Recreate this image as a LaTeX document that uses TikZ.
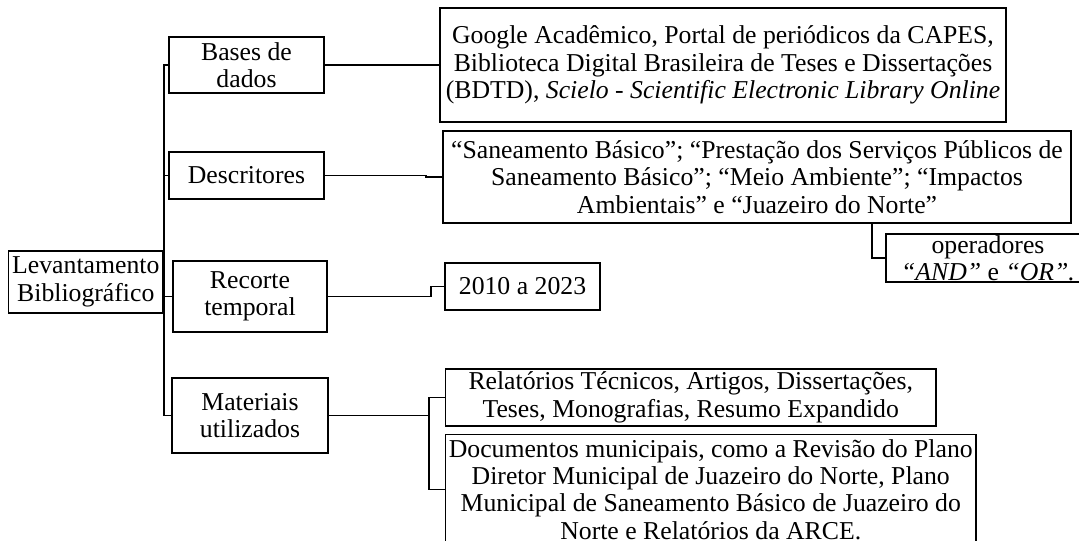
\documentclass[tikz,border=0pt]{standalone}
\usepackage{fontspec}
\setmainfont{Liberation Serif}
\usetikzlibrary{calc}

\begin{document}
\begin{tikzpicture}[x=0.75pt, y=-0.75pt,
  caixa/.style={draw, line width=1.3pt, align=center, inner sep=1pt,
    font=\fontsize{19.3pt}{20.6pt}\selectfont},
  liga/.style={line width=1.1pt}]
\useasboundingbox (0,0) rectangle (1079,541);
\clip (0,0) rectangle (1079,541);

\node[caixa, minimum width=115.8pt, minimum height=46.5pt] (lev) at (85.8,282) {Levantamento\\Bibliográfico};
\node[caixa, minimum width=116.25pt, minimum height=42pt] (bases) at (246.5,65) {Bases de\\dados};
\node[caixa, minimum width=116.25pt, minimum height=35.25pt] (desc) at (246.5,175.5) {Descritores};
\node[caixa, minimum width=115.5pt, minimum height=53.25pt] (recorte) at (250,296.5) {Recorte\\temporal};
\node[caixa, minimum width=117pt, minimum height=56.25pt] (mat) at (250,415.5) {Materiais\\utilizados};

\node[caixa, minimum width=424.5pt, minimum height=85.5pt] (google) at (723,65) {Google Acadêmico, Portal de periódicos da CAPES,\\Biblioteca Digital Brasileira de Teses e Dissertações\\(BDTD), \textit{Scielo - Scientific Electronic Library Online}};
\node[caixa, minimum width=471pt, minimum height=69pt] (san) at (757,177) {“Saneamento Básico”; “Prestação dos Serviços Públicos de\\Saneamento Básico”; “Meio Ambiente”; “Impactos\\Ambientais” e “Juazeiro do Norte”};
\node[caixa, minimum width=153pt, minimum height=36pt] (oper) at (988,258) {operadores\\\textit{“AND”} e \textit{“OR”.}};
\node[caixa, minimum width=116.25pt, minimum height=35.25pt] (ano) at (522.5,286.5) {2010 a 2023};
\node[caixa, minimum width=367.9pt, minimum height=42.75pt] (rel) at (690.75,397.5) {Relatórios Técnicos, Artigos, Dissertações,\\Teses, Monografias, Resumo Expandido};
\node[caixa, minimum width=397.9pt, minimum height=82.5pt] (doc) at (710.75,489.5) {Documentos municipais, como a Revisão do Plano\\Diretor Municipal de Juazeiro do Norte, Plano\\Municipal de Saneamento Básico de Juazeiro do\\Norte e Relatórios da ARCE.};

\coordinate (tronco) at (164,0);
\coordinate (ramo) at ($(rel.west)+(-15.5,0)$);

\draw[liga] (bases.west) -| (tronco |- mat.west) -- (mat.west);
\draw[liga] (desc.west) -- (desc.west -| tronco);
\draw[liga] (recorte.west) -- (recorte.west -| tronco);
\draw[liga] (lev.east) -- (lev.east -| tronco);

\draw[liga] (bases.east) -- (google.west);
\draw[liga] (desc.east) -| ($(san.west)+(-16,0)$) -- (san.west);
\draw[liga] ($(san.south east)+(-200,0)$) |- (oper.west);
\draw[liga] (recorte.east) -- ++(103,0) |- (ano.west);
\draw[liga] (mat.east) -- (mat.east -| ramo);
\draw[liga] (rel.west) -- (ramo) |- (doc.west);
\end{tikzpicture}
\end{document}
